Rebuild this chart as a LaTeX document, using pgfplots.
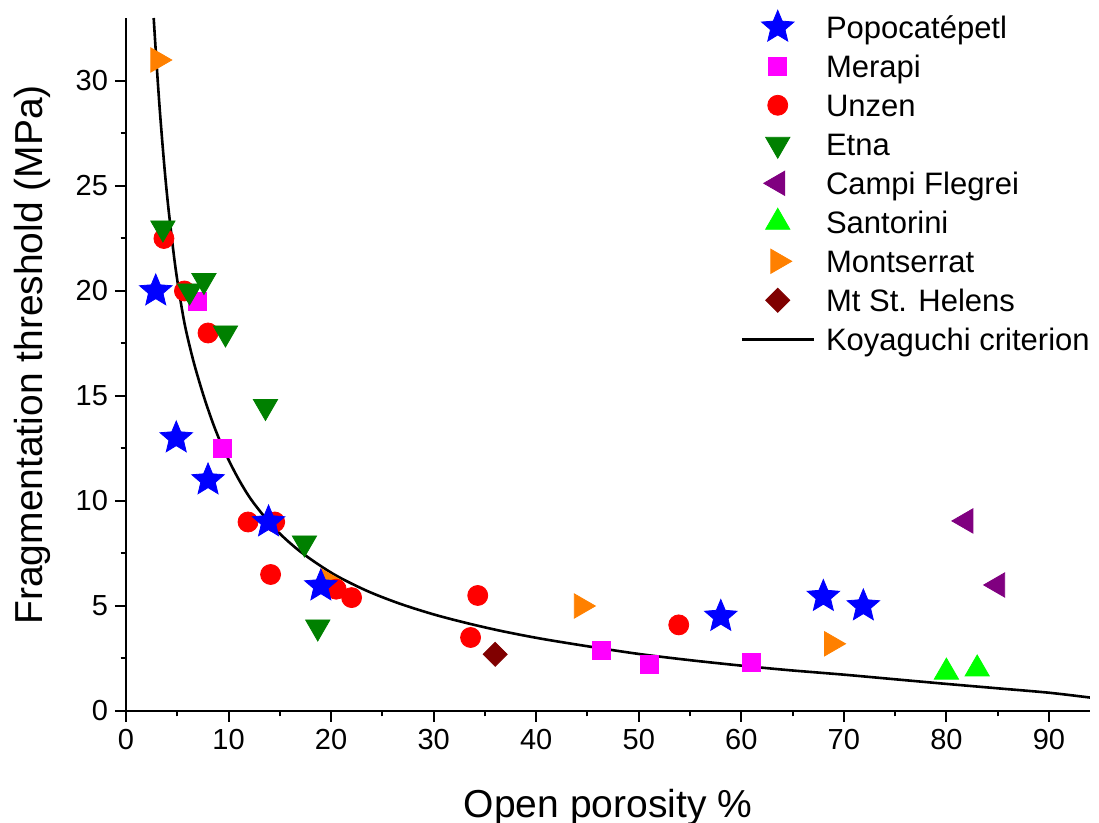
\documentclass[border=0pt]{standalone}
\usepackage{pgfplots}
\pgfplotsset{compat=1.18}
\usepackage{fontspec}
\setmainfont{Liberation Sans}
\definecolor{cPopo}{RGB}{0,0,255}
\definecolor{cMerapi}{RGB}{255,0,255}
\definecolor{cUnzen}{RGB}{255,0,0}
\definecolor{cEtna}{RGB}{0,128,0}
\definecolor{cCampi}{RGB}{128,0,128}
\definecolor{cSanto}{RGB}{0,255,0}
\definecolor{cMont}{RGB}{255,128,0}
\definecolor{cHelens}{RGB}{128,0,0}
\pgfdeclareplotmark{fatstar}{%
  \pgfpathmoveto{\pgfpointpolar{90}{\pgfplotmarksize}}%
  \pgfpathlineto{\pgfpointpolar{126}{0.45\pgfplotmarksize}}%
  \pgfpathlineto{\pgfpointpolar{162}{\pgfplotmarksize}}%
  \pgfpathlineto{\pgfpointpolar{198}{0.45\pgfplotmarksize}}%
  \pgfpathlineto{\pgfpointpolar{234}{\pgfplotmarksize}}%
  \pgfpathlineto{\pgfpointpolar{270}{0.45\pgfplotmarksize}}%
  \pgfpathlineto{\pgfpointpolar{306}{\pgfplotmarksize}}%
  \pgfpathlineto{\pgfpointpolar{342}{0.45\pgfplotmarksize}}%
  \pgfpathlineto{\pgfpointpolar{18}{\pgfplotmarksize}}%
  \pgfpathlineto{\pgfpointpolar{54}{0.45\pgfplotmarksize}}%
  \pgfpathclose
  \pgfusepathqfillstroke
}
\begin{document}
\begin{tikzpicture}
\path[use as bounding box] (-63pt,-56pt) rectangle (486.5pt,355.5pt);
\begin{axis}[
  anchor=origin, at={(0pt,0pt)},
  scale only axis,
  width=482pt, height=346.5pt,
  xmin=0, xmax=94, ymin=0, ymax=33,
  axis x line*=bottom, axis y line*=left,
  x axis line style={-, line width=1pt},
  y axis line style={-, line width=1pt},
  xtick={0,10,...,90}, ytick={0,5,...,30},
  minor x tick num=1, minor y tick num=1,
  tick align=outside,
  major tick length=5.5pt, minor tick length=2.7pt,
  every tick/.style={black, line width=1pt},
  /pgf/number format/assume math mode=true,
  tick label style={font=\fontsize{14.5}{17}\selectfont},
  label style={font=\fontsize{19.5}{23}\selectfont},
  xlabel={Open porosity \%},
  ylabel={Fragmentation threshold (MPa)},
  xlabel style={at={(axis description cs:0.5,-0.1537)}, anchor=base},
  ylabel style={at={(axis description cs:-0.0861,0.514)}, anchor=base},
  legend image code/.code={\draw[mark repeat=2,mark phase=2,#1] plot coordinates {(0pt,0pt) (18pt,0pt) (36pt,0pt)};},
  legend cell align=left,
  legend style={draw=none, fill=none, at={(0.637,1.0117)}, anchor=north west,
    inner sep=0pt, row sep=4.5pt, font=\fontsize{15.5}{18}\selectfont,
    /tikz/every odd column/.append style={column sep=3.5pt},
    nodes={inner xsep=2pt, inner ysep=0pt, text height=13pt, text depth=2pt}},
]
\addlegendimage{only marks, mark=fatstar, mark size=8.5pt, cPopo, mark options={draw=cPopo, fill=cPopo}}
\addlegendentry{Popocatépetl}
\addlegendimage{only marks, mark=square*, mark size=4.5pt, cMerapi, mark options={draw=cMerapi, fill=cMerapi}}
\addlegendentry{Merapi}
\addlegendimage{only marks, mark=*, mark size=5pt, cUnzen, mark options={draw=cUnzen, fill=cUnzen}}
\addlegendentry{Unzen}
\addlegendimage{only marks, mark=triangle*, mark size=7pt, cEtna, mark options={draw=cEtna, fill=cEtna, rotate=180}}
\addlegendentry{Etna}
\addlegendimage{only marks, mark=triangle*, mark size=7pt, cCampi, mark options={draw=cCampi, fill=cCampi, rotate=90}}
\addlegendentry{Campi Flegrei}
\addlegendimage{only marks, mark=triangle*, mark size=7pt, cSanto, mark options={draw=cSanto, fill=cSanto}}
\addlegendentry{Santorini}
\addlegendimage{only marks, mark=triangle*, mark size=7pt, cMont, mark options={draw=cMont, fill=cMont, rotate=-90}}
\addlegendentry{Montserrat}
\addlegendimage{only marks, mark=square*, mark size=4.25pt, cHelens, mark options={draw=cHelens, fill=cHelens, rotate=45}}
\addlegendentry{Mt St. Helens}
\addlegendimage{black, line width=1.3pt}
\addlegendentry{Koyaguchi criterion}

% Montserrat
\addplot[forget plot, only marks, mark=triangle*, mark size=7pt, mark options={draw=cMont, fill=cMont, rotate=-90}] coordinates {
(3.1,31.0) (19.7,6.2) (44.4,5.0) (68.8,3.2)};
% Mt St. Helens
\addplot[forget plot, only marks, mark=square*, mark size=4.25pt, mark options={draw=cHelens, fill=cHelens, rotate=45}] coordinates {
(36.0,2.7)};
% Santorini
\addplot[forget plot, only marks, mark=triangle*, mark size=7pt, mark options={draw=cSanto, fill=cSanto}] coordinates {
(80.0,1.85) (83.0,2.0)};
% Campi Flegrei
\addplot[forget plot, only marks, mark=triangle*, mark size=7pt, mark options={draw=cCampi, fill=cCampi, rotate=90}] coordinates {
(81.9,9.05) (85.0,6.0)};
% Merapi
\addplot[forget plot, only marks, mark=square*, mark size=4.5pt, mark options={draw=cMerapi, fill=cMerapi}] coordinates {
(7.0,19.5) (9.4,12.5) (46.4,2.9) (51.0,2.2) (61.0,2.3)};
% Unzen
\addplot[forget plot, only marks, mark=*, mark size=5pt, mark options={draw=cUnzen, fill=cUnzen}] coordinates {
(3.7,22.5) (5.7,20.0) (8.0,18.0) (11.9,9.0) (14.5,9.0) (14.1,6.5) (20.5,5.8) (22.0,5.4) (34.3,5.5) (33.6,3.5) (53.9,4.1)};
% Etna
\addplot[forget plot, only marks, mark=triangle*, mark size=7pt, mark options={draw=cEtna, fill=cEtna, rotate=180}] coordinates {
(3.6,23.0) (6.2,20.0) (7.6,20.5) (9.7,18.0) (13.6,14.5) (17.4,8.0) (18.7,4.0)};
% Popocatepetl
\addplot[forget plot, only marks, mark=fatstar, mark size=8.5pt, mark options={draw=cPopo, fill=cPopo}] coordinates {
(2.9,20.0) (4.9,13.0) (8.0,11.0) (13.9,9.0) (19.0,5.95) (58.0,4.5) (68.0,5.45) (71.9,5.0)};
% Koyaguchi criterion
\addplot[forget plot, black, line width=1.3pt, smooth, tension=0.5] coordinates {
(2.70,33.0) (2.99,30.77) (3.32,28.46) (3.74,25.94) (4.13,23.97) (4.72,21.5) (5.17,19.98) (5.76,18.33) (6.57,16.67) (7.54,15.05) (8.52,13.65) (9.5,12.48) (10.8,11.2) (12.26,10.03) (14.5,8.69) (17.0,7.59) (20.2,6.53) (23.5,5.72) (26.7,5.11) (30.0,4.6) (33.2,4.19) (36.5,3.82) (40.4,3.45) (45.3,3.06) (50.1,2.71) (55.0,2.42) (60.0,2.16) (64.5,1.95) (70.0,1.73) (75.0,1.51) (80.0,1.29) (85.0,1.08) (90.0,0.87) (94.0,0.64)};
\end{axis}
\end{tikzpicture}
\end{document}
